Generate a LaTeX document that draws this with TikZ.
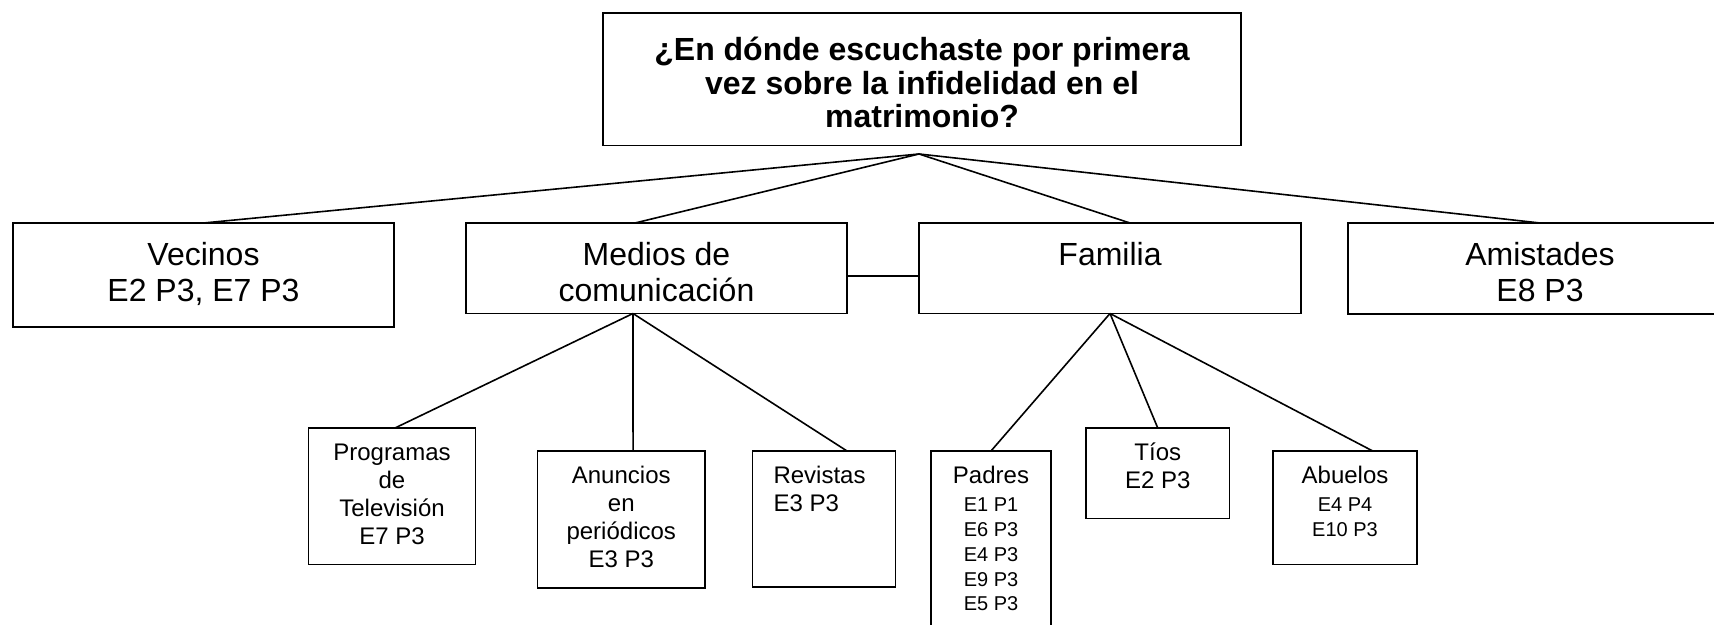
\documentclass[tikz,border=0pt]{standalone}
\usepackage{fontspec}
\setmainfont{Liberation Sans}
\newcommand\mylines[2][c]{\begin{tabular}[t]{@{}#1@{}}#2\end{tabular}}
\newcommand\fTitle{\bfseries\fontsize{16pt}{16.75pt}\selectfont}
\newcommand\fMid{\fontsize{16pt}{18pt}\selectfont}
\newcommand\fLow{\fontsize{12pt}{14pt}\selectfont}
\newcommand\fTiny{\fontsize{10pt}{12.35pt}\selectfont}
\begin{document}
\begin{tikzpicture}[x=0.5pt,y=-0.5pt,
  box/.style={draw, line width=0.8pt, inner sep=0pt, outer sep=0pt, anchor=north west, rectangle},
  conn/.style={line width=0.8pt},
  txt/.style={inner sep=0pt, outer sep=0pt, anchor=base},
  ttl/.style={txt, font=\fTitle, yshift=-24pt},
  mid/.style={txt, font=\fMid, yshift=-21.25pt},
  low/.style={txt, font=\fLow, yshift=-16.5pt}]
\useasboundingbox (0,0) rectangle (1714,625);
\clip (0,0) rectangle (1714,625);
% boxes
\node[box, minimum width=319pt, minimum height=66.25pt] (title) at (603,13) {};
\node[box, minimum width=190.5pt, minimum height=52pt] (vecinos) at (13,223) {};
\node[box, minimum width=190.5pt, minimum height=45.25pt] (medios) at (466,223) {};
\node[box, minimum width=191pt, minimum height=45.25pt] (familia) at (919,223) {};
\node[box, minimum width=192pt, minimum height=45.5pt] (amistades) at (1348,223) {};
\node[box, minimum width=83.5pt, minimum height=68.25pt] (prog) at (308.5,428) {};
\node[box, minimum width=83.75pt, minimum height=68.5pt] (anun) at (537.5,451) {};
\node[box, minimum width=71.5pt, minimum height=68pt] (revis) at (752.5,451) {};
\node[box, minimum width=60pt, minimum height=100pt] (padres) at (931,451) {};
\node[box, minimum width=71.75pt, minimum height=45.25pt] (tios) at (1086,428) {};
\node[box, minimum width=72pt, minimum height=56.75pt] (abuelos) at (1273,451) {};
% texts
\node[ttl] (ttitle) at (title.north) {\mylines{¿En dónde escuchaste por primera\\vez sobre la infidelidad en el\\matrimonio?}};
\node[mid] (tvecinos) at (vecinos.north) {\mylines{Vecinos\\E2 P3, E7 P3}};
\node[mid] (tmedios) at (medios.north) {\mylines{Medios de\\comunicación}};
\node[mid] (tfamilia) at (familia.north) {\mylines{Familia}};
\node[mid] (tamistades) at (amistades.north) {\mylines{Amistades\\E8 P3}};
\node[low] (tprog) at (prog.north) {\mylines{Programas\\de\\Televisión\\E7 P3}};
\node[low] (tanun) at (anun.north) {\mylines{Anuncios\\en\\periódicos\\E3 P3}};
\node[low, anchor=base west, xshift=10.5pt] (trevis) at (revis.north west) {\mylines[l]{Revistas\\E3 P3}};
\node[low] (tpadres) at (padres.north) {\mylines{Padres\\ \fTiny\mylines{E1 P1\\E6 P3\\E4 P3\\E9 P3\\E5 P3}}};
\node[low] (ttios) at (tios.north) {\mylines{Tíos\\E2 P3}};
\node[low] (tabuelos) at (abuelos.north) {\mylines{Abuelos\\ \fTiny\mylines{E4 P4\\E10 P3}}};
% connectors
\coordinate (apex) at (919,154);
\draw[conn] (apex) -- (vecinos.north);
\draw[conn] (apex) -- ([xshift=-10.75pt]medios.north);
\draw[conn] (apex) -- ([xshift=10pt]familia.north);
\draw[conn] (apex) -- (amistades.north);
\draw[conn] ([yshift=-3.75pt]medios.east) -- ([yshift=-3.75pt]familia.west);
\coordinate (mhub) at ([xshift=-11.75pt]medios.south);
\draw[conn] (mhub) -- ([xshift=1.5pt]prog.north);
\draw[conn] (mhub) -- ([xshift=5.9pt]anun.north);
\draw[conn] (mhub) -- ([xshift=11.5pt]revis.north);
\coordinate (fhub) at (familia.south);
\draw[conn] (fhub) -- (padres.north);
\draw[conn] (fhub) -- (tios.north);
\draw[conn] (fhub) -- ([xshift=13.85pt]abuelos.north);
\end{tikzpicture}
\end{document}
